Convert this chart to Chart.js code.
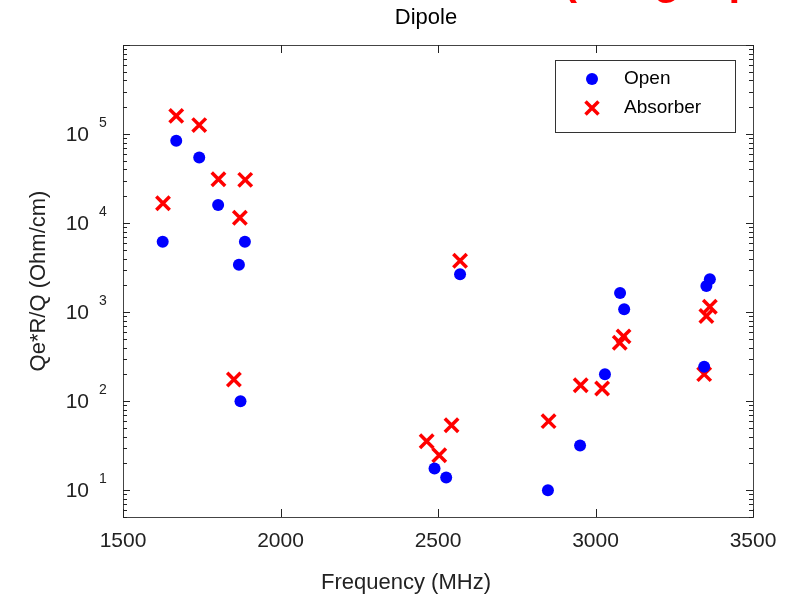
<!DOCTYPE html>
<html>
<head>
<meta charset="utf-8">
<script src="https://cdn.jsdelivr.net/npm/chart.js@4/dist/chart.umd.min.js"></script>
<style>
html,body{margin:0;padding:0;background:#fff;}
#wrap{width:790px;height:598px;position:relative;}
</style>
</head>
<body>
<div id="wrap"><canvas id="c" width="790" height="598"></canvas></div>
<script>
// ---- data ----
const openFreq = [1626, 1669, 1742, 1802, 1887, 1868, 1873, 2570, 2489, 2526, 2849, 2951, 3030, 3078, 3091, 3363, 3352, 3345];
const openVal  = [6170, 83900, 54500, 16000, 6170, 3410, 100, 2660, 17.5, 13.9, 10, 31.8, 201, 1640, 1075, 2340, 1960, 243];
const absFreq  = [1669, 1742, 1803, 1888, 1627, 1871, 1852, 2570, 2464, 2504, 2543, 2851, 2953, 3021, 3077, 3089, 3363, 3352, 3345];
const absVal   = [160000, 126000, 31100, 30600, 16700, 11500, 175, 3780, 35.5, 24.7, 53.7, 59.6, 151, 139, 453, 534, 1150, 903, 201];
const xTicks = [1500, 2000, 2500, 3000, 3500];
const yDecades = [1, 2, 3, 4, 5];
const seriesNames = ['Open', 'Absorber'];
const titleText = 'Dipole';
const headerText = '(Long taper)';
const xLabel = 'Frequency (MHz)';
const yLabel = 'Qe*R/Q (Ohm/cm)';

const FONT = '"Liberation Sans", Arial, Helvetica, sans-serif';
const pts = (xs, ys) => xs.map((x, i) => ({x: x, y: ys[i]}));

const decor = {
  id: 'decor',
  afterDraw(chart) {
    const ctx = chart.ctx;
    const a = chart.chartArea;
    const xs = chart.scales.x, ys = chart.scales.y;
    ctx.save();
    // box
    ctx.strokeStyle = '#444';
    ctx.lineWidth = 1;
    ctx.strokeRect(Math.round(a.left) + 0.5, Math.round(a.top) + 0.5, Math.round(a.right - a.left), Math.round(a.bottom - a.top));
    // x ticks
    ctx.strokeStyle = '#222';
    xTicks.forEach(v => {
      const px = Math.round(xs.getPixelForValue(v)) + 0.5;
      ctx.beginPath();
      ctx.moveTo(px, a.bottom); ctx.lineTo(px, a.bottom - 8);
      ctx.moveTo(px, a.top); ctx.lineTo(px, a.top + 8);
      ctx.stroke();
    });
    // y ticks (log)
    for (let k = 0; k <= 6; k++) {
      for (let m = 1; m <= 9; m++) {
        const v = m * Math.pow(10, k);
        if (v < ys.min - 1e-9 || v > ys.max + 1e-9) continue;
        const py = Math.round(ys.getPixelForValue(v)) + 0.5;
        const len = (m === 1) ? 7 : 4;
        ctx.beginPath();
        ctx.moveTo(a.left, py); ctx.lineTo(a.left + len, py);
        ctx.moveTo(a.right, py); ctx.lineTo(a.right - len, py);
        ctx.stroke();
      }
    }
    // y tick labels with superscripts
    ctx.fillStyle = '#222';
    yDecades.forEach(k => {
      const py = ys.getPixelForValue(Math.pow(10, k));
      ctx.font = '21px ' + FONT;
      ctx.textAlign = 'right';
      ctx.textBaseline = 'alphabetic';
      ctx.fillText('10', 89, py + 7);
      ctx.font = '14px ' + FONT;
      ctx.textAlign = 'left';
      ctx.fillText(String(k), 99, py - 7);
    });
    // title
    ctx.fillStyle = '#000';
    ctx.font = '22px ' + FONT;
    ctx.textAlign = 'center';
    ctx.textBaseline = 'middle';
    ctx.fillText(titleText, 426, 18);
    // red header (cut off at top)
    ctx.fillStyle = '#ff0000';
    ctx.font = 'bold 42px ' + FONT;
    ctx.textAlign = 'left';
    ctx.textBaseline = 'alphabetic';
    ctx.fillText(headerText, 563, -6);
    // axis labels
    ctx.fillStyle = '#222';
    ctx.font = '22px ' + FONT;
    ctx.textAlign = 'center';
    ctx.textBaseline = 'middle';
    ctx.fillText(xLabel, 406, 583);
    ctx.save();
    ctx.translate(39, 281);
    ctx.rotate(-Math.PI / 2);
    ctx.fillText(yLabel, 0, 0);
    ctx.restore();
    // legend
    ctx.fillStyle = '#fff';
    ctx.fillRect(556, 61, 180, 72);
    ctx.strokeStyle = '#333';
    ctx.lineWidth = 1;
    ctx.strokeRect(555.5, 60.5, 180, 72);
    ctx.fillStyle = '#0000ff';
    ctx.beginPath(); ctx.arc(592, 79, 6, 0, Math.PI * 2); ctx.fill();
    ctx.strokeStyle = '#ff0000';
    ctx.lineWidth = 3.5;
    ctx.beginPath();
    ctx.moveTo(585.5, 101.5); ctx.lineTo(598.5, 114.5);
    ctx.moveTo(598.5, 101.5); ctx.lineTo(585.5, 114.5);
    ctx.stroke();
    ctx.fillStyle = '#000';
    ctx.font = '19px ' + FONT;
    ctx.textAlign = 'left';
    ctx.textBaseline = 'middle';
    ctx.fillText(seriesNames[0], 624, 79);
    ctx.fillText(seriesNames[1], 624, 108);
    ctx.restore();
  }
};

new Chart(document.getElementById('c'), {
  type: 'scatter',
  data: {
    datasets: [
      {
        label: seriesNames[0],
        data: pts(openFreq, openVal),
        pointStyle: 'circle',
        pointRadius: 6,
        pointHoverRadius: 6,
        backgroundColor: '#0000ff',
        borderColor: '#0000ff',
        borderWidth: 0
      },
      {
        label: seriesNames[1],
        data: pts(absFreq, absVal),
        pointStyle: 'crossRot',
        pointRadius: 9.5,
        pointHoverRadius: 9.5,
        backgroundColor: '#ff0000',
        borderColor: '#ff0000',
        borderWidth: 3.5
      }
    ]
  },
  options: {
    responsive: false,
    animation: false,
    events: [],
    layout: { padding: { left: 0, top: 45, right: 37, bottom: 0 } },
    plugins: { legend: { display: false }, title: { display: false }, tooltip: { enabled: false } },
    scales: {
      x: {
        type: 'linear',
        min: 1500, max: 3500,
        afterBuildTicks(s) { s.ticks = xTicks.map(v => ({value: v})); },
        afterFit(s) { s.height = 81; },
        grid: { display: false, drawTicks: false },
        border: { display: false },
        ticks: { color: '#222', font: { size: 21, family: FONT }, padding: 12, maxRotation: 0,
                 callback: (v) => String(v) }
      },
      y: {
        type: 'logarithmic',
        min: 5, max: 1e6,
        afterFit(s) { s.width = 123; },
        grid: { display: false, drawTicks: false },
        border: { display: false },
        ticks: { display: false }
      }
    }
  },
  plugins: [decor]
});
</script>
</body>
</html>
